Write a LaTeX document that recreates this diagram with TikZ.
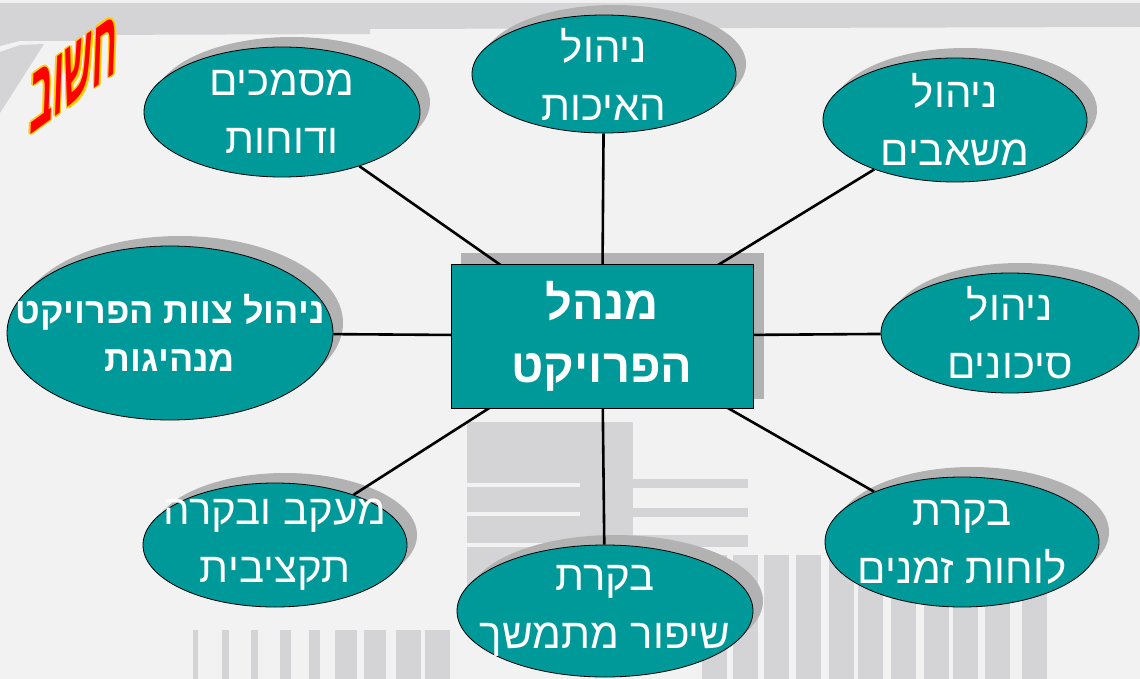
\documentclass[tikz,border=0pt]{standalone}
\usepackage{fontspec}
\usetikzlibrary{shapes.geometric}
\newfontfamily\heb[Script=Hebrew]{Liberation Sans}
\TeXXeTstate=1
\definecolor{bgc}{RGB}{242,242,242}
\definecolor{barc}{RGB}{212,211,213}
\definecolor{shc}{RGB}{178,178,178}
\definecolor{tealc}{RGB}{0,153,153}
\definecolor{goldc}{RGB}{255,204,0}
\pgfdeclarelayer{back}
\pgfdeclarelayer{shade}
\pgfdeclarelayer{links}
\pgfsetlayers{back,shade,links,main}
\newcommand\hb[1]{\beginR#1\endR}
\tikzset{
  bub/.style={ellipse, draw=black, line width=0.8pt, fill=tealc, inner sep=0pt},
  btxt/.style={text=white, align=center, inner sep=0pt, font=\heb\fontsize{42}{58}\selectfont},
  bbold/.style={text=white, align=center, inner sep=0pt, font=\heb\bfseries\fontsize{36}{48}\selectfont},
  link/.style={draw=black, line width=2.6pt},
  hubbox/.style={rectangle, draw=black, line width=0.8pt, fill=tealc, minimum width=302pt, minimum height=144pt,
    text=white, align=center, font=\heb\bfseries\fontsize{47}{63}\selectfont},
  stampfont/.style={font=\heb\bfseries\fontsize{96}{96}\selectfont, inner sep=0pt, xscale=0.37, yslant=0.27, xslant=0.1, transform shape},
}
% name, cx, cy, rx, ry, text style, text
\newcommand\bubble[7]{%
  \begin{pgfonlayer}{shade}
    \fill[shc] (#2+10,#3-10) ellipse [x radius=#4, y radius=#5];
  \end{pgfonlayer}
  \node[bub, minimum width={2*#4pt}, minimum height={2*#5pt},
        label={[#6]center:{#7}}] (#1) at (#2,#3) {};
}
\begin{document}
\begin{tikzpicture}[x=1pt,y=-1pt]
\useasboundingbox (0,0) rectangle (1140,679);
\begin{pgfonlayer}{back}
  \fill[bgc] (0,0) rectangle (1140,679);
  % top band
  \fill[barc] (0,3) -- (1140,3) -- (1140,27) -- (370,29) -- (370,34) -- (83,35) -- (83,41)
     -- (20,41) -- (0,46) -- cycle;
  \fill[barc] (0,52) -- (20,45) -- (44,44) -- (0,113) -- cycle;
  % central block
  \fill[barc] (467,422) rectangle (633,600);
  \foreach \y in {483,512,543} \fill[bgc] (467,\y) rectangle (580,\y+3.5);
  \foreach \y/\h in {479/9,508/9,535/12} \fill[barc] (633,\y) rectangle (748,\y+\h);
  % bottom-left bars
  \foreach \x/\w in {193/5,222/7,251/7,280/11,309/11,335/22,364/22,396/25,425/25}
    \fill[barc] (\x,630) rectangle (\x+\w,679);
  % bottom-right bars
  \foreach \x in {702,733,764,796,829,858,891,924,953,985,1022}
    \fill[barc] (\x,555) rectangle (\x+25,679);
\end{pgfonlayer}

% hub
\begin{pgfonlayer}{shade}
  \fill[shc] (461,253) rectangle (764,399);
\end{pgfonlayer}
\node[hubbox] (c) at (602,336) {\hb{מנהל}\\\hb{הפרויקט}};

\bubble{e1}{282}{112}{138}{65}{btxt}{\hb{מסמכים}\\\hb{ודוחות}}
\bubble{e2}{604}{74}{132}{59}{btxt}{\hb{ניהול}\\\hb{האיכות}}
\bubble{e3}{955}{120}{132}{62}{btxt}{\hb{ניהול}\\\hb{משאבים}}
\bubble{e4}{1010}{333}{129}{60}{btxt}{\hb{ניהול}\\\hb{סיכונים}}
\bubble{e5}{962}{542}{137}{65}{btxt}{\hb{בקרת}\\\hb{לוחות זמנים}}
\bubble{e6}{605}{611}{148}{66}{btxt}{\hb{בקרת}\\\hb{שיפור מתמשך}}
\bubble{e7}{275}{545}{132}{62}{btxt}{\hb{מעקב ובקרה}\\\hb{תקציבית}}
\bubble{e8}{170}{333}{163}{87}{bbold}{\hb{ניהול צוות הפרויקט}\\\hb{מנהיגות}}

\begin{pgfonlayer}{links}
  \foreach \e in {e1,e2,e3,e4,e5,e6,e7,e8}
    \draw[link] (c.center) -- (\e);
\end{pgfonlayer}

% stamp (yellow rim, red face)
\foreach \dx/\dy in {-1.5/0,1.5/0,0/-1.5,0/1.5,-1.1/-1.1,1.1/1.1,-1.1/1.1,1.1/-1.1}
  \node[text=goldc, stampfont] at (74+\dx,74+\dy) {\hb{חשוב}};
\node[text=red, stampfont] (stamp) at (74,74) {\hb{חשוב}};
\end{tikzpicture}
\end{document}
